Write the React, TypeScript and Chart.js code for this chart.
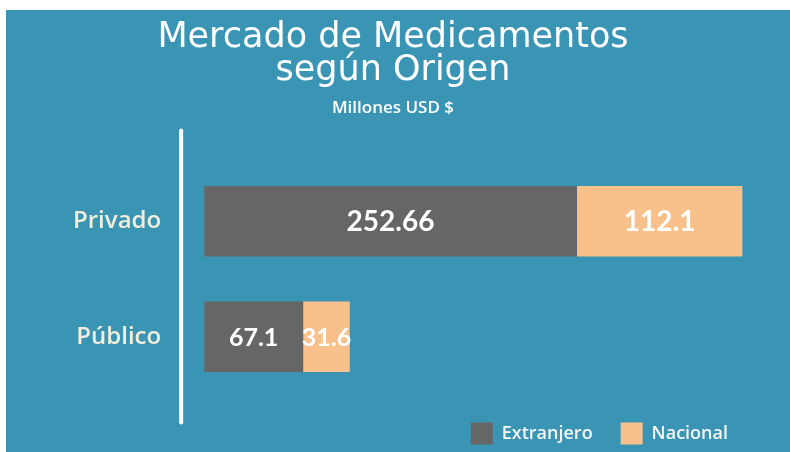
import React, { useEffect, useRef } from "react";
import { Chart, registerables } from "chart.js";

Chart.register(...registerables);

const categories = ["Privado", "Público"];
const extranjero = [252.66, 67.1];
const nacional = [112.1, 31.6];
const seriesNames = ["Extranjero", "Nacional"];
const titleLines = ["Mercado de Medicamentos", "según Origen"];
const subtitleText = "Millones USD $";

const BG = "#3a95b5";
const GRAY = "#666666";
const PEACH = "#f8c18b";
const CREAM = "#f3eedb";

const axisLinePlugin = {
  id: "axisLine",
  beforeDatasetsDraw(chart: any) {
    const { ctx, chartArea } = chart;
    ctx.save();
    ctx.strokeStyle = "#ffffff";
    ctx.lineWidth = 4;
    ctx.lineCap = "round";
    ctx.beginPath();
    const x = chartArea.left - 23;
    ctx.moveTo(x, chartArea.top - 33);
    ctx.lineTo(x, chartArea.bottom + 28);
    ctx.stroke();
    ctx.restore();
  },
};

const labelSizes = [28, 25];

const valueLabelPlugin = {
  id: "valueLabels",
  afterDatasetsDraw(chart: any) {
    const { ctx } = chart;
    ctx.save();
    ctx.textAlign = "center";
    ctx.textBaseline = "middle";
    ctx.fillStyle = "#ffffff";
    chart.data.datasets.forEach((ds: any, di: number) => {
      const meta = chart.getDatasetMeta(di);
      meta.data.forEach((el: any, i: number) => {
        const v = ds.data[i];
        ctx.font = `bold ${labelSizes[i]}px Lato`;
        const cx = (el.x + el.base) / 2;
        ctx.fillText(String(v), cx, el.y + 1);
      });
    });
    ctx.restore();
  },
};

export default function App() {
  const ref = useRef<HTMLCanvasElement>(null);

  useEffect(() => {
    if (!ref.current) return;
    const chart = new Chart(ref.current, {
      type: "bar",
      data: {
        labels: categories,
        datasets: [
          {
            label: seriesNames[0],
            data: extranjero,
            backgroundColor: GRAY,
            borderWidth: 0,
            barPercentage: 0.61,
            categoryPercentage: 1,
          },
          {
            label: seriesNames[1],
            data: nacional,
            backgroundColor: PEACH,
            borderWidth: 0,
            barPercentage: 0.61,
            categoryPercentage: 1,
          },
        ],
      },
      options: {
        indexAxis: "y",
        responsive: false,
        animation: false,
        layout: { padding: { left: 24, right: 34, top: 0, bottom: -4 } },
        scales: {
          x: {
            stacked: true,
            display: false,
            min: 0,
            max: 374,
          },
          y: {
            stacked: true,
            grid: { display: false, drawTicks: false },
            border: { display: false },
            ticks: {
              color: CREAM,
              padding: 43,
              font: { family: "Open Sans", size: 24, weight: "600" },
            },
          },
        },
        plugins: {
          title: {
            display: true,
            text: titleLines,
            color: "#ffffff",
            font: { family: "DejaVu Sans", size: 35, weight: "normal", lineHeight: 0.96 },
            padding: { top: 11, bottom: 10 },
          },
          subtitle: {
            display: true,
            text: subtitleText,
            color: "#ffffff",
            font: { family: "Open Sans", size: 17, weight: "600", lineHeight: 1.2 },
            padding: { top: 0, bottom: 45 },
          },
          legend: {
            display: true,
            position: "bottom",
            align: "end",
            labels: {
              color: "#f5f5f5",
              boxWidth: 22,
              boxHeight: 22,
              padding: 28,
              font: { family: "Open Sans", size: 18, weight: "600" },
            },
          },
          tooltip: { enabled: false },
        },
      },
      plugins: [axisLinePlugin, valueLabelPlugin],
    });
    return () => chart.destroy();
  }, []);

  return (
    <div
      style={{
        position: "fixed",
        left: 6,
        top: 10,
        width: 784,
        height: 442,
        background: BG,
      }}
    >
      <canvas ref={ref} width={784} height={442} style={{ display: "block" }} />
    </div>
  );
}
